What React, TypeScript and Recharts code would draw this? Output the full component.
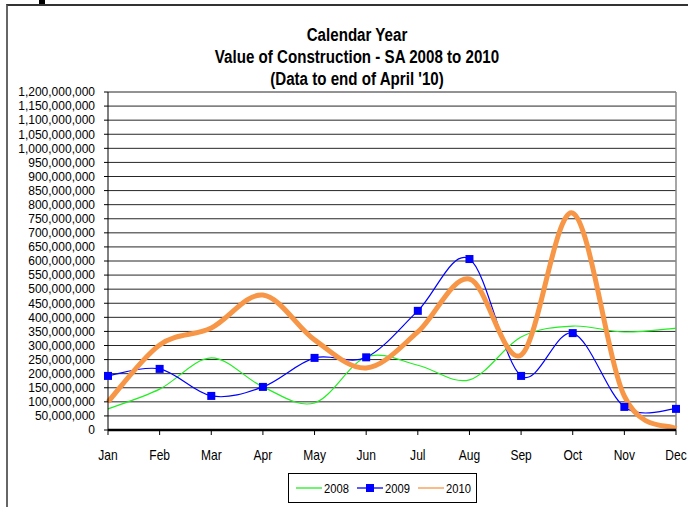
import React from "react";
import {
  LineChart,
  Line,
  XAxis,
  YAxis,
  CartesianGrid,
  Legend,
  ReferenceLine,
} from "recharts";

const months = ["Jan", "Feb", "Mar", "Apr", "May", "Jun", "Jul", "Aug", "Sep", "Oct", "Nov", "Dec"];

const values2008 = [75e6, 145e6, 256e6, 153e6, 96e6, 259e6, 230e6, 178e6, 330e6, 369e6, 348e6, 362e6];
const values2009 = [192e6, 217e6, 121e6, 153e6, 256e6, 258e6, 423e6, 607e6, 192e6, 344e6, 82e6, 75e6];
const values2010 = [100e6, 302e6, 362e6, 479e6, 320e6, 220e6, 348e6, 536e6, 266e6, 770e6, 120e6, 5e6];

const yTicks = [
  0, 50e6, 100e6, 150e6, 200e6, 250e6, 300e6, 350e6, 400e6, 450e6, 500e6, 550e6, 600e6,
  650e6, 700e6, 750e6, 800e6, 850e6, 900e6, 950e6, 1000e6, 1050e6, 1100e6, 1150e6, 1200e6,
];

const titleLines = ["Calendar Year", "Value of Construction - SA 2008 to 2010", "(Data to end of April '10)"];

const series = [
  { key: "y2008", name: "2008", color: "#22ee22" },
  { key: "y2009", name: "2009", color: "#0000ff" },
  { key: "y2010", name: "2010", color: "#f79646" },
];

const data = months.map((month, i) => ({
  month,
  y2008: values2008[i],
  y2009: values2009[i],
  y2010: values2010[i],
}));

const FONT = "'Liberation Sans', Arial, sans-serif";

// Excel-style smoothed line (Catmull-Rom through every point)
const excelCurve = (context: any) => {
  let pts: number[][] = [];
  return {
    areaStart() {},
    areaEnd() {},
    lineStart() {
      pts = [];
    },
    point(x: number, y: number) {
      pts.push([+x, +y]);
    },
    lineEnd() {
      const n = pts.length;
      if (!n) return;
      context.moveTo(pts[0][0], pts[0][1]);
      for (let i = 0; i < n - 1; i++) {
        const p0 = pts[Math.max(i - 1, 0)];
        const p1 = pts[i];
        const p2 = pts[i + 1];
        const p3 = pts[Math.min(i + 2, n - 1)];
        context.bezierCurveTo(
          p1[0] + (p2[0] - p0[0]) / 6,
          p1[1] + (p2[1] - p0[1]) / 6,
          p2[0] - (p3[0] - p1[0]) / 6,
          p2[1] - (p3[1] - p1[1]) / 6,
          p2[0],
          p2[1]
        );
      }
    },
  };
};

// narrow-looking month labels (the original uses a condensed face)
const MonthTick = (props: any) => {
  const { x, y, payload } = props;
  return (
    <text
      transform={`translate(${x},${y + 6}) scale(0.86,1)`}
      textAnchor="middle"
      dominantBaseline="central"
      fontFamily={FONT}
      fontSize={14}
      fill="#000"
    >
      {payload.value}
    </text>
  );
};

const SquareDot = (props: any) => {
  const { cx, cy } = props;
  if (cx == null || cy == null) return null;
  return <rect x={cx - 4} y={cy - 4} width={8} height={8} fill="#0000ff" />;
};

const LegendBox = () => (
  <div
    style={{
      width: 189,
      height: 30,
      marginLeft: 288,
      boxSizing: "border-box",
      border: "1px solid #000",
      display: "flex",
      alignItems: "center",
      justifyContent: "center",
      fontFamily: FONT,
      fontSize: 13,
      color: "#000",
    }}
  >
    {series.map((s) => (
      <div key={s.key} style={{ display: "flex", alignItems: "center", marginRight: s.key === "y2010" ? 0 : 9 }}>
        <svg width={26} height={10} style={{ marginRight: 2 }}>
          <line x1={0} y1={5} x2={26} y2={5} stroke={s.color} strokeWidth={1.3} />
          {s.key === "y2009" && <rect x={9} y={1} width={8} height={8} fill="#0000ff" />}
        </svg>
        <span style={{ display: "inline-block", transform: "scaleX(0.86)", transformOrigin: "left center", width: 24 }}>
          {s.name}
        </span>
      </div>
    ))}
  </div>
);

export default function App() {
  return (
    <div
      style={{
        position: "fixed",
        left: 0,
        top: 0,
        width: 688,
        height: 507,
        background: "#fff",
        overflow: "hidden",
      }}
    >
      <div style={{ position: "absolute", left: 39, top: 0, width: 6, height: 4, background: "#000" }} />
      <div
        style={{
          position: "absolute",
          left: 6,
          top: 4,
          right: 0,
          bottom: 0,
          borderTop: "2px solid #333",
          borderLeft: "2px solid #666",
        }}
      />
      <div
        style={{
          position: "absolute",
          left: 0,
          width: 714,
          top: 24,
          textAlign: "center",
          fontFamily: FONT,
          fontWeight: "bold",
          fontSize: 18,
          lineHeight: "22px",
          color: "#000",
        }}
      >
        {titleLines.map((t) => (
          <div key={t} style={{ transform: "scaleX(0.84)" }}>
            {t}
          </div>
        ))}
      </div>
      <div style={{ position: "absolute", left: 0, top: 0 }}>
        <LineChart width={688} height={507} data={data} margin={{ top: 92, right: 12, bottom: 4, left: 0 }}>
          <CartesianGrid vertical={false} stroke="#000" strokeOpacity={0.85} />
          <ReferenceLine x="Dec" stroke="#888" strokeWidth={1.5} />
          <XAxis
            dataKey="month"
            height={43}
            axisLine={{ stroke: "#000", strokeWidth: 2.5 }}
            tickLine={{ stroke: "#000" }}
            tickSize={5}
            tickMargin={14}
            interval={0}
            tick={<MonthTick />}
          />
          <YAxis
            width={108}
            domain={[0, 1200000000]}
            ticks={yTicks}
            interval={0}
            axisLine={{ stroke: "#000" }}
            tickLine={{ stroke: "#000" }}
            tickSize={4}
            tickMargin={9}
            tickFormatter={(v: number) => v.toLocaleString("en-US")}
            tick={{ fill: "#000", fontSize: 12, fontFamily: FONT }}
          />
          <Legend verticalAlign="bottom" content={() => <LegendBox />} />
          <Line
            dataKey="y2008"
            name="2008"
            type={excelCurve as any}
            stroke="#22ee22"
            strokeWidth={1.2}
            dot={false}
            isAnimationActive={false}
          />
          <Line
            dataKey="y2009"
            name="2009"
            type={excelCurve as any}
            stroke="#0000ff"
            strokeWidth={1.2}
            dot={<SquareDot />}
            activeDot={false}
            isAnimationActive={false}
          />
          <Line
            dataKey="y2010"
            name="2010"
            type={excelCurve as any}
            stroke="#f79646"
            strokeWidth={5}
            dot={false}
            isAnimationActive={false}
          />
        </LineChart>
      </div>
    </div>
  );
}
